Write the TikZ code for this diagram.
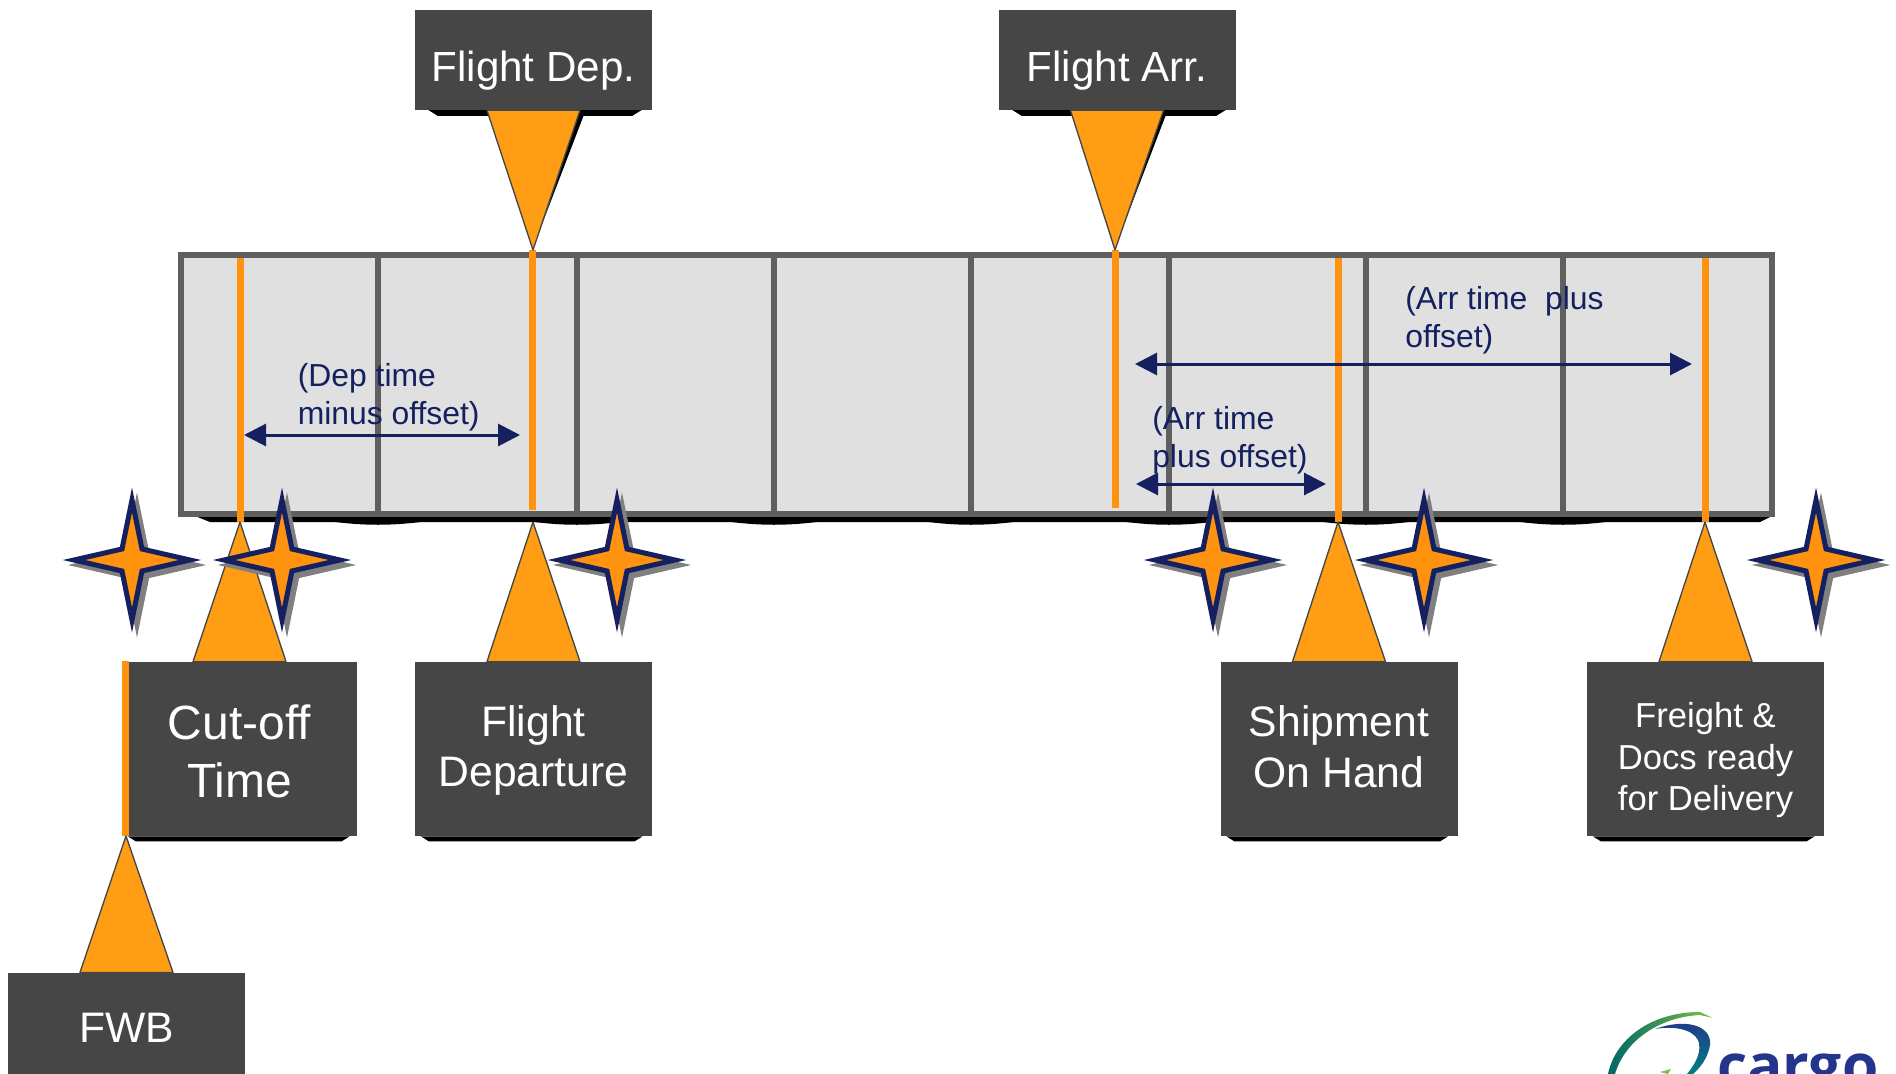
\documentclass[tikz,border=0pt]{standalone}
\usepackage{fontspec}
\setmainfont{Liberation Sans}
\newfontfamily\logofont{Open Sans}
\usetikzlibrary{arrows.meta}

\definecolor{panel}{HTML}{464646}
\definecolor{gridfill}{HTML}{E0E0E0}
\definecolor{gridline}{HTML}{5F5F5F}
\definecolor{amber}{HTML}{FF9E15}
\definecolor{marker}{HTML}{FF920F}
\definecolor{navy}{HTML}{14205F}
\definecolor{logoblue}{HTML}{24358C}
\definecolor{logogreen}{HTML}{7DC242}

\tikzset{
  box/.style={fill=panel, text=white, inner sep=0pt, align=center, minimum width=177.75pt},
  topbox/.style={box, minimum height=75pt, text height=33pt, text depth=0pt, font=\fontsize{31.6}{38}\selectfont},
  lowbox/.style={box, minimum height=130.5pt, font=\fontsize{32}{38}\selectfont},
  wedge/.style={fill=amber, draw=panel, line width=1pt, line join=round},
  tick/.style={draw=marker, line width=5.25pt},
  divider/.style={draw=gridline, line width=5pt},
  span/.style={draw=navy, line width=2.25pt, {Triangle[length=16.5pt,width=16.5pt]}-{Triangle[length=16.5pt,width=16.5pt]}},
  note/.style={text=navy, anchor=west, align=left, inner sep=0pt, font=\fontsize{23.9}{28.5}\selectfont}
}

\newcommand{\sparklepath}{(0,-60) -- (10,-11) -- (58,0) -- (10,11) -- (0,60) -- (-10,11) -- (-58,0) -- (-10,-11) -- cycle}
\newcommand{\sparkle}[2]{
  \begin{scope}[shift={(#1,#2)}]
  \draw [shift={(5,5)}, fill=gray, draw=gray, line width=3.75pt] \sparklepath;
  \draw [fill=marker, draw=navy, line width=3.75pt] \sparklepath;
  \end{scope}
}

\begin{document}
\begin{tikzpicture}[x=.75pt, y=-.75pt]
\useasboundingbox (0,0) rectangle (1896,1074);

% timeline
\fill (195,516) -- (210,522) -- (1760,522) -- (1772,516) -- cycle;
\node [draw=gridline, fill=gridfill, line width=4.5pt, inner sep=0pt, minimum width=1193.25pt, minimum height=194.25pt] (grid) at (976.5,384.5) {};
\foreach \x in {378,577,774,971,1169,1366,1563} {
  \fill (\x-50,521) .. controls (\x-15,526) and (\x+15,526) .. (\x+50,521) -- cycle;
  \draw [divider] (\x,255) -- (\x,514);
}

\draw [tick] (240,258) -- (240,522);
\draw [tick] (532.5,250) -- (532.5,510);
\draw [tick] (1115,250) -- (1115,508);
\draw [tick] (1338,258) -- (1338,522);
\draw [tick] (1705,258) -- (1705,522);

% shadows of the top boxes
\fill (425,108) -- (438,116) -- (632,116) -- (645,108) -- cycle;
\fill (1009,108) -- (1022,116) -- (1216,116) -- (1229,108) -- cycle;
\fill (536,240) -- (585,112) -- (560,112) -- cycle;
\fill (1118,240) -- (1167,112) -- (1142,112) -- cycle;

% boxes
\node [topbox] (fltdep) at (533.5,60) {Flight Dep.};
\node [topbox] (fltarr) at (1117,60) {Flight Arr.};
\node [lowbox, minimum width=176.25pt, font=\fontsize{36}{43.5}\selectfont] (cutoff) at (239.5,749) {\rule{0pt}{30pt}Cut-off\\Time};
\node [lowbox] (depart) at (533.5,749) {\rule{0pt}{25.2pt}Flight\\Departure};
\node [lowbox] (onhand) at (1339,749) {Shipment\\On Hand\rule[-3.6pt]{0pt}{0pt}};
\node [lowbox, font=\fontsize{26}{31}\selectfont] (freight) at (1705.5,749) {\rule{0pt}{35.5pt}Freight \&\\Docs ready\\for Delivery};
\node [box, minimum height=76pt, font=\fontsize{32}{38}\selectfont] (fwb) at (126.5,1023.5) {\rule{0pt}{28pt}FWB};
\fill (cutoff.south west) ++(6,0) -- ++(222,0) -- ++(-8,5) -- ++(-206,0) -- cycle;
\fill (depart.south west) ++(6,0) -- ++(222,0) -- ++(-8,5) -- ++(-206,0) -- cycle;
\fill (onhand.south west) ++(6,0) -- ++(222,0) -- ++(-8,5) -- ++(-206,0) -- cycle;
\fill (freight.south west) ++(6,0) -- ++(222,0) -- ++(-8,5) -- ++(-206,0) -- cycle;
\draw [tick] (125.5,661) -- (125.5,836);

% pointers
\coordinate (tipdep) at (533,250);
\coordinate (tiparr) at (1115,250);
\coordinate (tipcut) at (240,522);
\coordinate (tipdepart) at (533,522);
\coordinate (tiphand) at (1338,522);
\coordinate (tipfreight) at (1705,522);
\coordinate (tipfwb) at (126,836);
\draw [wedge] (tipdep) -- ([xshift=-34.9pt]fltdep.south) -- ([xshift=34.9pt]fltdep.south) -- cycle;
\draw [wedge] (tiparr) -- ([xshift=-34.9pt]fltarr.south) -- ([xshift=34.9pt]fltarr.south) -- cycle;
\draw [wedge] (tipcut) -- ([xshift=-34.9pt]cutoff.north) -- ([xshift=34.9pt]cutoff.north) -- cycle;
\draw [wedge] (tipdepart) -- ([xshift=-34.9pt]depart.north) -- ([xshift=34.9pt]depart.north) -- cycle;
\draw [wedge] (tiphand) -- ([xshift=-34.9pt]onhand.north) -- ([xshift=34.9pt]onhand.north) -- cycle;
\draw [wedge] (tipfreight) -- ([xshift=-34.9pt]freight.north) -- ([xshift=34.9pt]freight.north) -- cycle;
\draw [wedge] (tipfwb) -- ([xshift=-34.9pt]fwb.north) -- ([xshift=34.9pt]fwb.north) -- cycle;

% offsets
\node [note] (depnote) at (297.5,397.4) {(Dep time\\minus offset)};
\node [note] (arrnote) at (1152,440.4) {(Arr time\\plus offset)};
\node [note] (latenote) at (1405,319.9) {(Arr time~~plus\\offset)};
\coordinate (depa) at (244,435);
\coordinate (depb) at (520,435);
\coordinate (arra) at (1136,484);
\coordinate (arrb) at (1326,484);
\coordinate (latea) at (1135,364);
\coordinate (lateb) at (1692,364);
\draw [span] (depa) -- (depb);
\draw [span] (arra) -- (arrb);
\draw [span] (latea) -- (lateb);

\sparkle{132}{560}
\sparkle{282}{560}
\sparkle{617}{560}
\sparkle{1213}{560}
\sparkle{1424}{560}
\sparkle{1816}{560}

% logo
\begin{scope}
\clip (1560,960) rectangle (1896,1074);
\shade [left color=teal!80!black, right color=logogreen]
(1608,1074) .. controls (1615,1040) and (1650,1012) .. (1700,1012) -- (1713,1018) -- (1700,1015)
.. controls (1660,1017) and (1625,1040) .. (1615,1074) -- cycle;
\shade [top color=logoblue, bottom color=teal]
(1655,1029) .. controls (1685,1018) and (1712,1025) .. (1710,1045) .. controls (1708,1058) and (1700,1068) .. (1693,1074)
-- (1687,1074) .. controls (1697,1062) and (1702,1050) .. (1698,1040) .. controls (1692,1028) and (1670,1026) .. (1655,1029) -- cycle;
\fill [logogreen] (1660,1072) -- (1671,1069) -- (1668,1074) -- cycle;
\node [anchor=base west, text=logoblue, inner sep=0pt, font=\logofont\bfseries\fontsize{44}{50}\selectfont] (logo) at (1717,1086) {cargo};
\end{scope}
\end{tikzpicture}
\end{document}
